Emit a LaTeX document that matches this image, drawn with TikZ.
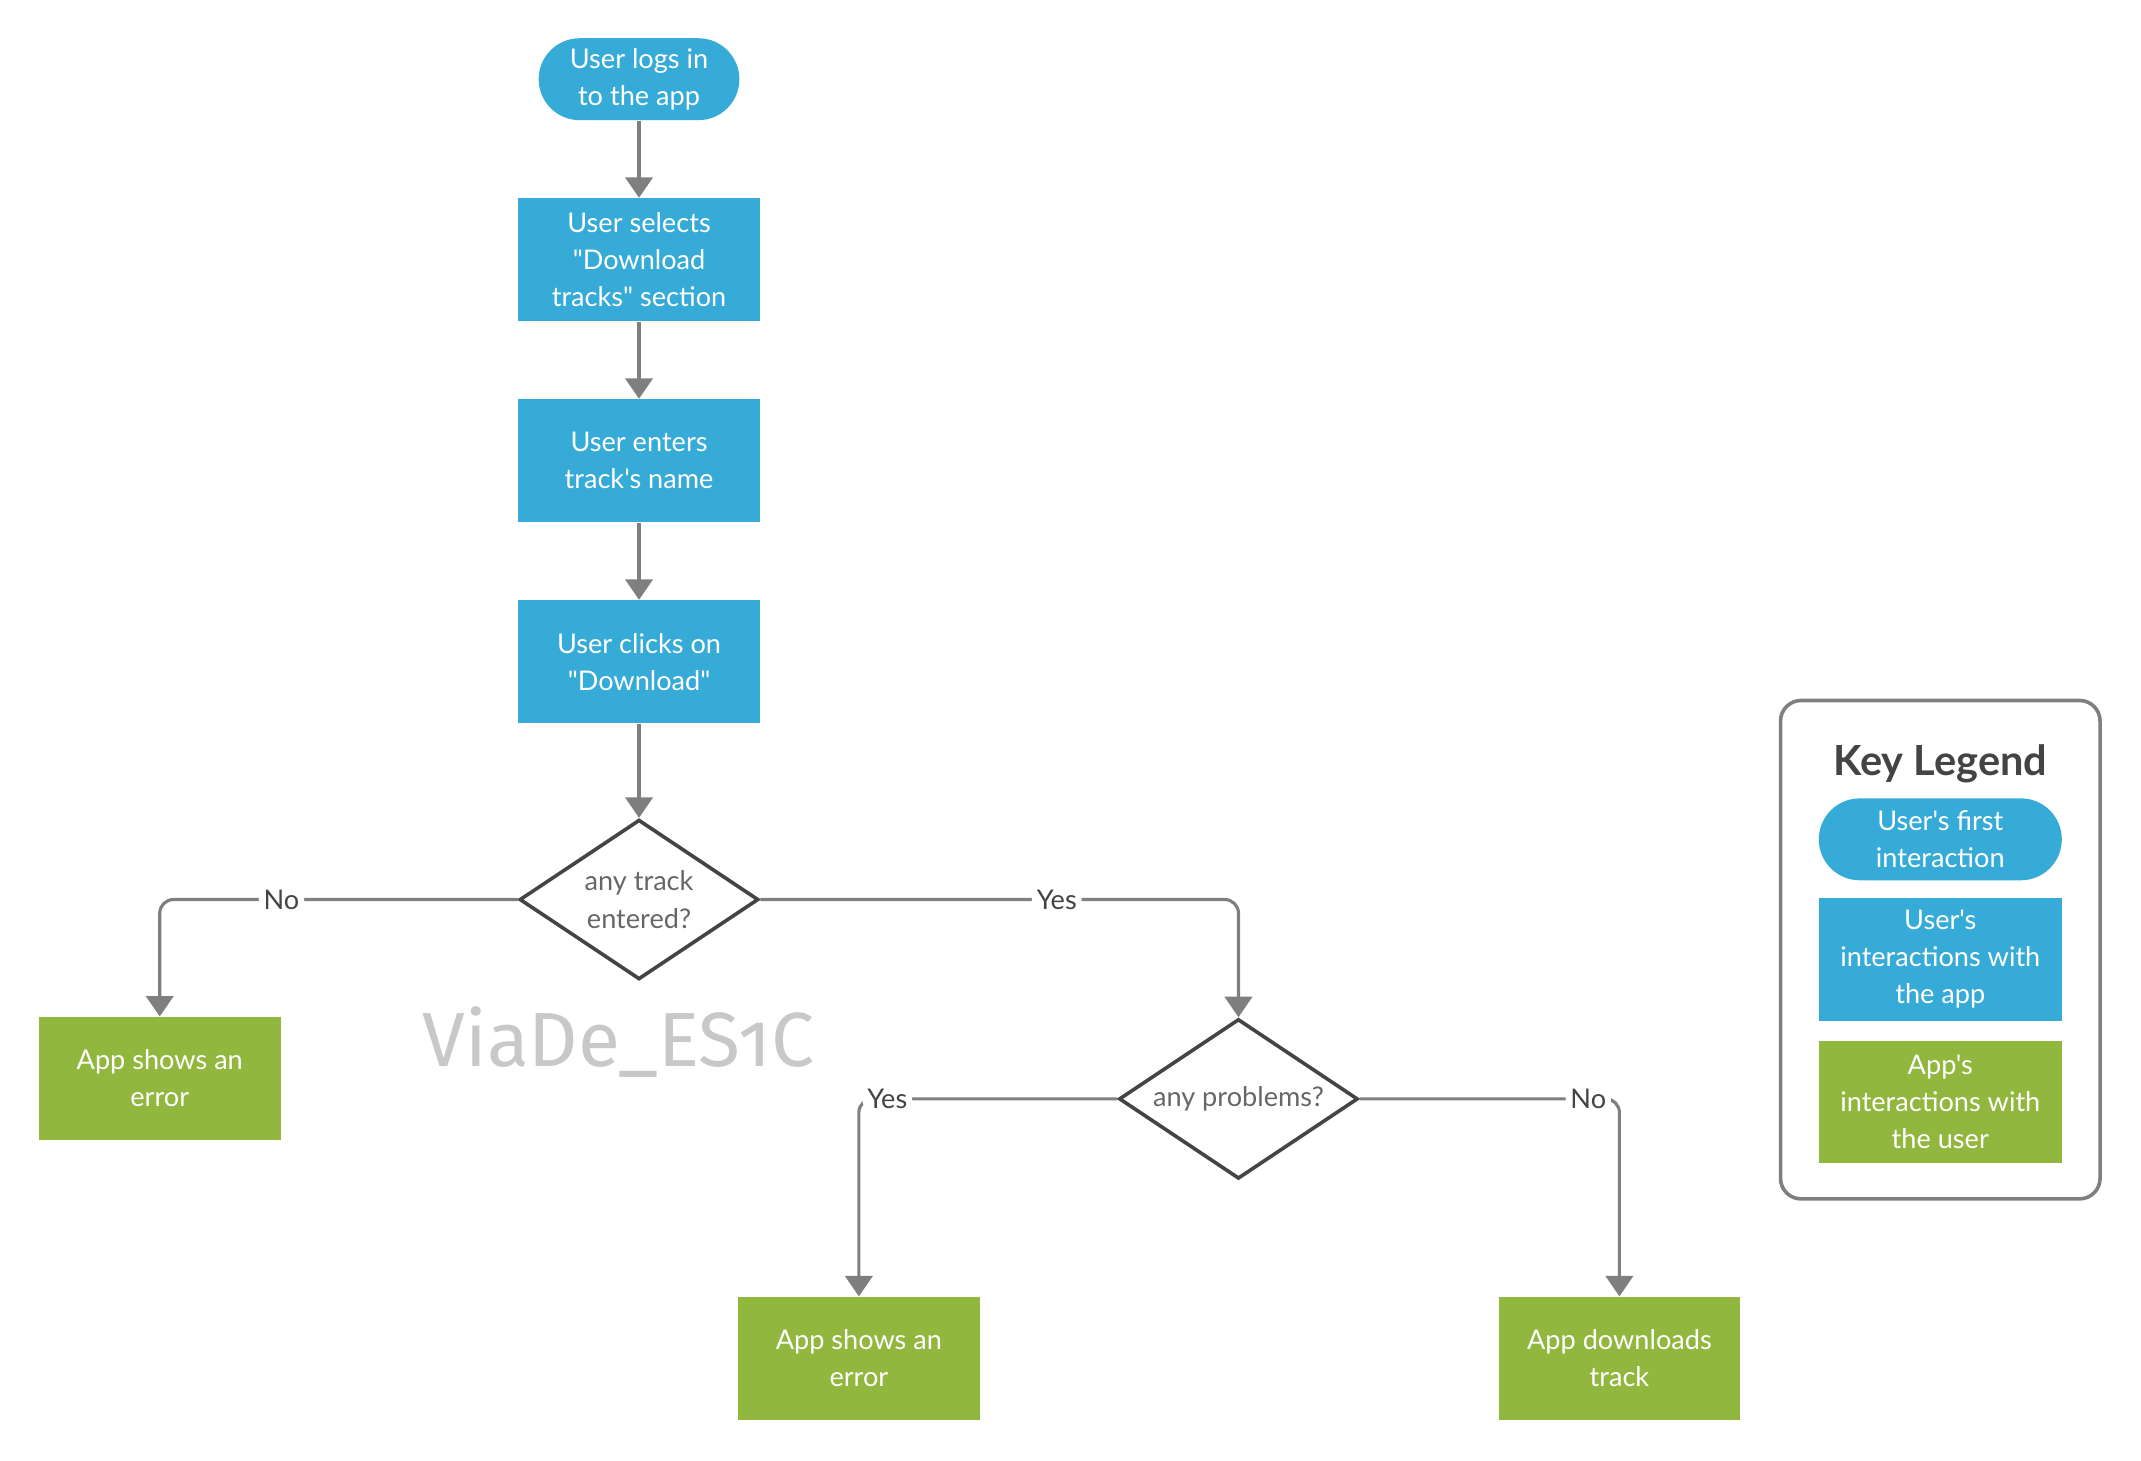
\documentclass[tikz,border=0pt]{standalone}
\usepackage{fontspec}
\setmainfont{Lato}[Ligatures=TeXOff]
\newfontfamily\markfont{Fira Sans}[Numbers=OldStyle]
\usepackage{tikz}
\usetikzlibrary{positioning}
\usetikzlibrary{arrows.meta}
\usetikzlibrary{shapes.geometric}
\definecolor{userblue}{HTML}{37ABD7}
\definecolor{appgreen}{HTML}{92B73E}
\definecolor{linegray}{HTML}{7F7F7F}
\definecolor{darkgray}{HTML}{444444}
\definecolor{textgray}{HTML}{666666}
\definecolor{markgray}{HTML}{C8C8C8}
\tikzset {
  node distance={1.13cm},
  % text inside the shapes
  txt/.style = {align=center, font=\fontsize{11.3}{15.5}\selectfont},
  % first step of the user
  first/.style = {txt, fill=userblue, text=white, rounded corners=0.6cm,
    minimum width=2.94cm, minimum height=1.2cm, inner sep=0pt},
  % user actions
  user/.style = {txt, fill=userblue, text=white,
    minimum width=3.54cm, minimum height=1.8cm, inner sep=0pt},
  % app actions
  app/.style = {txt, fill=appgreen, text=white,
    minimum width=3.54cm, minimum height=1.8cm, inner sep=0pt},
  % decisions
  choice/.style = {txt, diamond, aspect=1.5, draw=darkgray, line width=1.5pt,
    text=textgray, minimum width=3.5cm, minimum height=2.34cm, inner sep=0pt},
  % connectors
  flow/.style = {linegray, line width=1.3pt, rounded corners=0.2cm,
    -{Triangle[width=0.4cm, length=0.3cm]}},
  lab/.style = {fill=white, text=darkgray, inner sep=2pt,
    font=\fontsize{11.3}{13}\selectfont},
}

\begin{document}
\begin{tikzpicture}
  \useasboundingbox (0,0) rectangle (31.36,-21.386);

  \node[first] (login) at (9.36,-1.16) {User logs in\\to the app};
  \node[user] (select) [below=of login] {User selects\\"Download\\tracks" section};
  \node[user] (enter) [below=of select] {User enters\\track's name};
  \node[user] (click) [below=of enter] {User clicks on\\"Download"};
  \node[choice] (track) [below=1.38cm of click] {any track\\entered?};

  \node[app] (err1) at ([shift={(-7.02,-2.62)}]track) {App shows an\\error};
  \node[choice] (prob) at ([shift={(8.78,-2.92)}]track) {any problems?};
  \node[app] (err2) at ([shift={(-5.56,-3.8)}]prob) {App shows an\\error};
  \node[app] (down) at ([shift={(5.58,-3.8)}]prob) {App downloads\\track};

  \draw [flow] (login) -- (select);
  \draw [flow] (select) -- (enter);
  \draw [flow] (enter) -- (click);
  \draw [flow] (click) -- (track);
  \draw [flow] (track.west) -| node[lab, pos=0.33] {No} (err1.north);
  \draw [flow] (track.east) -| node[lab, pos=0.31] {Yes} (prob.north);
  \draw [flow] (prob.west) -| node[lab, pos=0.445] {Yes} (err2.north);
  \draw [flow] (prob.east) -| node[lab, pos=0.44] {No} (down.north);

  \node[text=markgray, font=\markfont\fontsize{32}{36}\selectfont] (mark) at (9.06,-15.26) {ViaDe\_ES1C};

  % legend
  \node[draw=linegray, line width=1.5pt, rounded corners=0.3cm,
    minimum width=4.68cm, minimum height=7.3cm] (legend) at (28.42,-13.91) {};
  \node[text=darkgray, font=\bfseries\fontsize{17.3}{20}\selectfont] (key) at ([yshift=-0.96cm]legend.north) {Key Legend};
  \node[first, minimum width=3.56cm] (kfirst) at ([yshift=-2.06cm]legend.north) {User's first\\interaction};
  \node[user, minimum width=3.56cm] (kuser) [below=0.24cm of kfirst] {User's\\interactions with\\the app};
  \node[app, minimum width=3.56cm] (kapp) [below=0.28cm of kuser] {App's\\interactions with\\the user};
\end{tikzpicture}
\end{document}
